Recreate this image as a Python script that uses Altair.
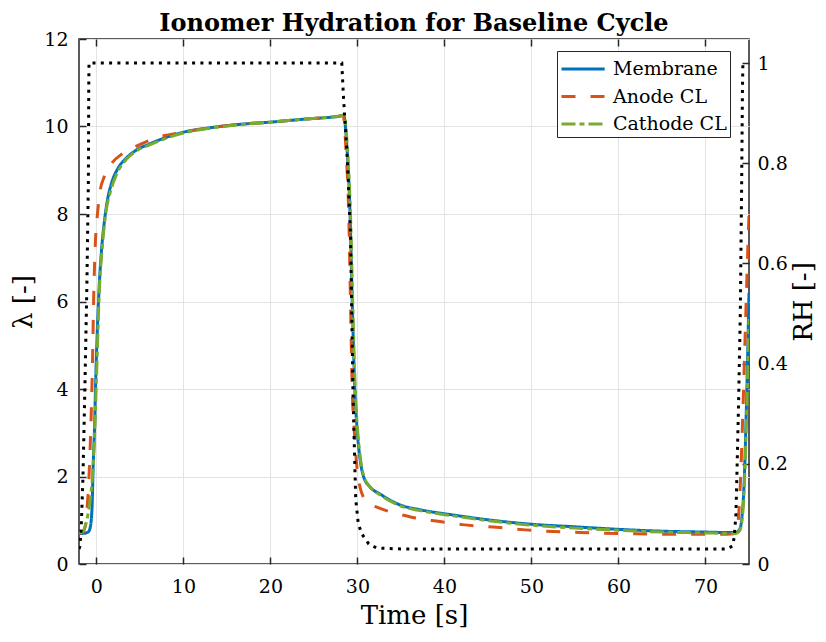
import altair as alt
import pandas as pd

# ---------------- data ----------------
series_names = ["Membrane", "Anode CL", "Cathode CL"]

mem_t = [-2.0, -1.6, -1.2, -0.9, -0.7, -0.5, -0.38, -0.2, -0.08, 0.1, 0.3, 0.6, 0.96, 1.3, 1.73, 2.5,
         3.45, 4.5, 6.1, 8, 10, 13, 16.5, 20, 24, 28.0, 28.4, 28.8, 29.15, 29.4, 29.7, 30.0, 30.3, 30.7,
         31.5, 32.6, 34.9, 37.2, 41, 45, 49.9, 55, 60.2, 65, 70, 72.5, 73.5, 73.9, 74.2, 74.45, 74.65,
         74.85, 75.0]
mem_l = [0.70, 0.70, 0.71, 0.74, 0.85, 1.3, 2.19, 3.2, 4.2, 5.3, 6.26, 7.2, 7.9, 8.35, 8.7, 9.05,
         9.28, 9.45, 9.6, 9.75, 9.87, 9.97, 10.05, 10.1, 10.17, 10.24, 10.26, 9.5, 8.0, 6.0, 4.0, 2.98, 2.4, 2.0,
         1.75, 1.6, 1.35, 1.24, 1.12, 1.01, 0.91, 0.85, 0.79, 0.75, 0.73, 0.72, 0.72, 0.78, 1.1, 1.9, 3.2,
         4.8, 6.2]

ano_t = [-2.0, -1.6, -1.3, -1.1, -0.85, -0.6, -0.45, -0.3, -0.15, 0.1, 0.38, 0.9, 1.73, 3.0, 4.6, 7, 10,
         16.5, 20, 24, 28.0, 28.35, 28.7, 29.0, 29.2, 29.4, 29.65, 29.95, 30.3, 31.0, 32.6, 34, 36.0, 39.5,
         42, 46, 49.3, 55.5, 62, 68, 72.5, 73.3, 73.7, 74.0, 74.3, 74.6, 74.8, 75.0]
ano_l = [0.70, 0.72, 0.85, 1.2, 2.0, 3.4, 4.6, 6.2, 7.2, 7.95, 8.47, 8.85, 9.15, 9.38, 9.55, 9.75, 9.87,
         10.05, 10.1, 10.17, 10.24, 10.26, 9.4, 8.0, 6.0, 4.0, 3.0, 2.2, 1.75, 1.45, 1.27, 1.18, 1.08, 0.97,
         0.9, 0.84, 0.78, 0.72, 0.69, 0.68, 0.68, 0.69, 0.9, 1.8, 3.5, 5.5, 6.8, 8.0]

cat_t = [-2.0, -1.6, -1.3, -1.0, -0.7, -0.45, -0.2, 0.0, 0.35, 0.7, 1.1, 1.6, 2.3, 3.45, 4.5, 6.1, 8,
         10, 13, 16.5, 20, 24, 28.0, 28.45, 28.85, 29.2, 29.45, 29.75, 30.05, 30.35, 30.75, 31.5, 32.6,
         34.9, 37.2, 41, 45, 49.9, 55, 60.2, 65, 70, 72.5, 73.5, 73.9, 74.2, 74.45, 74.65, 74.85, 75.0]
cat_l = [0.72, 0.74, 0.85, 1.1, 1.5, 2.0, 3.0, 4.2, 6.3, 7.3, 8.05, 8.5, 8.9, 9.25, 9.43, 9.58, 9.73,
         9.85, 9.96, 10.04, 10.1, 10.17, 10.24, 10.25, 9.5, 8.0, 6.0, 4.0, 2.98, 2.4, 2.0, 1.75, 1.58,
         1.33, 1.22, 1.1, 0.99, 0.89, 0.82, 0.77, 0.73, 0.71, 0.70, 0.70, 0.75, 1.0, 1.7, 2.9, 4.3, 5.6]

rh_t = [-2.0, -1.9, -1.75, -1.55, -1.35, -1.1, -0.92, -0.88, -0.85, 28.2, 28.4, 28.8, 29.2, 29.5, 29.8,
        30.1, 30.5, 31.3, 32.2, 35, 72.5, 73.1, 73.3, 73.5, 73.6, 73.8, 74.0, 74.15, 74.25, 74.3, 74.4]
rh_v = [0.03, 0.035, 0.07, 0.17, 0.33, 0.55, 0.77, 0.95, 1.0, 1.0, 0.93, 0.82, 0.66, 0.33, 0.13,
        0.08, 0.06, 0.04, 0.032, 0.03, 0.03, 0.036, 0.053, 0.10, 0.17, 0.32, 0.5, 0.75, 0.95, 1.0, 1.0]

x_ticks = [0, 10, 20, 30, 40, 50, 60, 70]
lam_ticks = [0, 2, 4, 6, 8, 10, 12]
rh_ticks = [0, 0.2, 0.4, 0.6, 0.8, 1.0]

colors = ["#0072BD", "#D95319", "#77AC30"]
dashes = [[1, 0], [14, 15], [14, 4, 5, 4]]

rows = []
for name, ts, ls in [("Membrane", mem_t, mem_l), ("Anode CL", ano_t, ano_l), ("Cathode CL", cat_t, cat_l)]:
    for i, (t, l) in enumerate(zip(ts, ls)):
        rows.append({"series": name, "t": t, "lam": l, "idx": i})
lam_df = pd.DataFrame(rows)
rh_df = pd.DataFrame({"t": rh_t, "rh": rh_v})

FONT = "DejaVu Serif"
INK = "#262626"
GRID = "#e3e3e3"

x_scale = alt.Scale(domain=[-2, 75], nice=False, zero=False)

legend_common = dict(
    title=None, orient="none", legendX=478, legendY=12, symbolType="M-1,0H2.2",
    symbolSize=729, symbolStrokeWidth=3, labelFont=FONT, labelFontSize=19, labelColor="black",
    padding=3, strokeColor=INK, fillColor="white", rowPadding=2.5, labelOffset=23,
)

lam = alt.Chart(lam_df).mark_line(strokeWidth=3, interpolate="monotone", clip=True).encode(
    x=alt.X("t:Q", scale=x_scale,
            axis=alt.Axis(orient="bottom", values=x_ticks, title="Time [s]", grid=True, gridColor=GRID,
                          offset=-7, tickSize=7, tickColor=INK, tickWidth=1.5, domain=False,
                          labelPadding=13, labelFont=FONT, labelFontSize=19, labelColor="black",
                          titleFont=FONT, titleFontSize=26, titleFontWeight="normal", titleColor="black",
                          titlePadding=6)),
    y=alt.Y("lam:Q", scale=alt.Scale(domain=[0, 12], nice=False),
            axis=alt.Axis(orient="left", values=lam_ticks, title="λ [-]", grid=True, gridColor=GRID,
                          offset=-7, tickSize=7, tickColor=INK, tickWidth=1.5, domain=False,
                          labelPadding=11, labelFont=FONT, labelFontSize=19, labelColor="black",
                          titleFont=FONT, titleFontSize=26, titleFontWeight="normal", titleColor="black",
                          titlePadding=7)),
    color=alt.Color("series:N", scale=alt.Scale(domain=series_names, range=colors),
                    legend=alt.Legend(**legend_common)),
    strokeDash=alt.StrokeDash("series:N", scale=alt.Scale(domain=series_names, range=dashes),
                              legend=alt.Legend(**legend_common)),
    order=alt.Order("idx:Q"),
)

rh = alt.Chart(rh_df).mark_line(color="black", strokeWidth=3, strokeDash=[3, 5.3], clip=True).encode(
    x=alt.X("t:Q", scale=x_scale,
            axis=alt.Axis(orient="top", values=x_ticks, title=None, labels=False, grid=False,
                          offset=-7, tickSize=7, tickColor=INK, tickWidth=1.5, domain=False)),
    y=alt.Y("rh:Q", scale=alt.Scale(domain=[0, 1.048], nice=False),
            axis=alt.Axis(orient="right", values=rh_ticks, format="~g", title="RH [-]", grid=False,
                          offset=-7, tickSize=7, tickColor=INK, tickWidth=1.5, domain=False,
                          labelPadding=8, labelFont=FONT, labelFontSize=19, labelColor="black",
                          titleFont=FONT, titleFontSize=26, titleFontWeight="normal", titleColor="black",
                          titleAngle=270, titleBaseline="top", titlePadding=3)),
)

chart = alt.layer(lam, rh).resolve_scale(y="independent").resolve_axis(x="independent").properties(
    width=670, height=525,
    autosize=alt.AutoSizeParams(type="none"),
    padding={"left": 71, "top": 31, "right": 69, "bottom": 70},
    title=alt.Title("Ionomer Hydration for Baseline Cycle", font=FONT, fontSize=24, fontWeight="bold",
                    anchor="middle", offset=-6, color="black"),
).configure_view(stroke=INK, strokeWidth=1.5)

chart.save("out.html", embed_options={"renderer": "svg", "actions": False})
